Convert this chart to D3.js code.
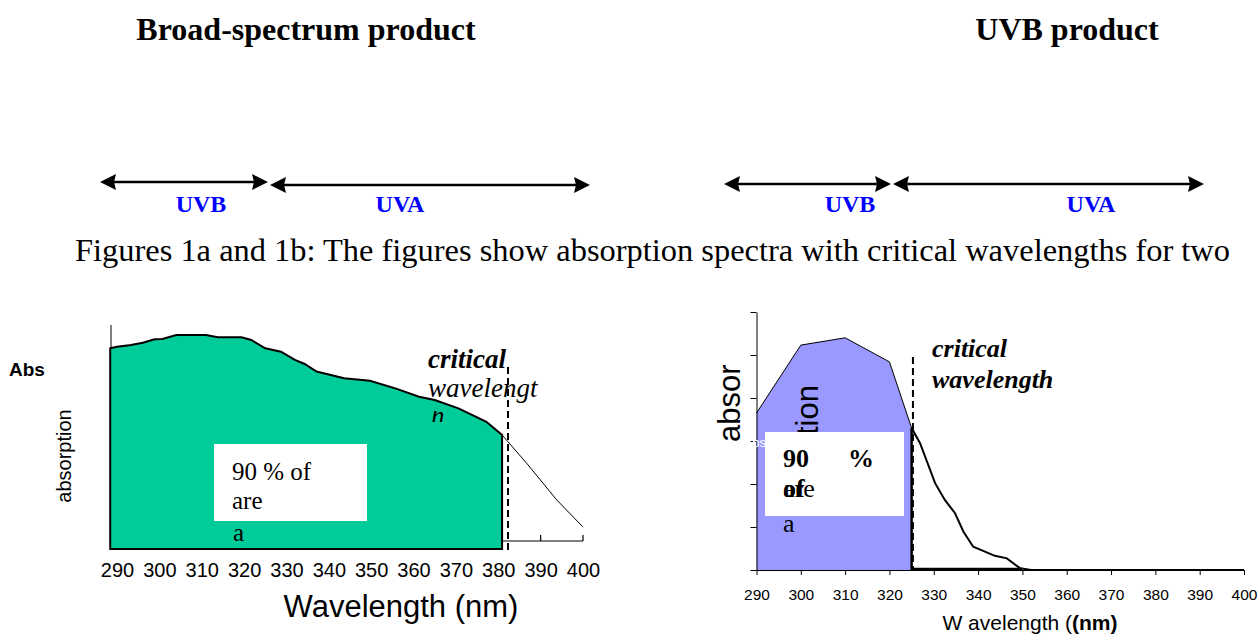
<!DOCTYPE html>
<html>
<head>
<meta charset="utf-8">
<script src="https://cdnjs.cloudflare.com/ajax/libs/d3/7.8.5/d3.min.js"></script>
<style>
  body { margin: 0; background: #fff; }
  svg { display: block; }
</style>
</head>
<body>
<div id="chart"></div>
<script>
// ---- datos ----
const titulos = ["Broad-spectrum product", "UVB product"];
const leyenda = "Figures 1a and 1b: The figures show absorption spectra with critical wavelengths for two";
const bandas = ["UVB", "UVA"];
const bordesBanda = [290, 320, 400];
const ticksNm = [290, 300, 310, 320, 330, 340, 350, 360, 370, 380, 390, 400];

// figura 1a: producto de amplio espectro (absorbancia relativa)
const wlA = [288.4, 290, 293.3, 296.1, 298.9, 300.7, 304, 311, 313.8, 319.4, 321.7, 325, 328.7, 332, 334.3, 337.1, 343.6, 349.7, 355.7, 361.3, 365, 370.6, 377.2, 380.9];
const absA = [0.896, 0.903, 0.911, 0.921, 0.936, 0.938, 0.955, 0.955, 0.945, 0.945, 0.933, 0.896, 0.881, 0.844, 0.826, 0.792, 0.762, 0.751, 0.717, 0.680, 0.665, 0.628, 0.568, 0.509];
const wlA2 = [380.9, 386.7, 393.8, 399.9];
const absA2 = [0.509, 0.383, 0.219, 0.100];
const criticaA = 382.3;

// figura 1b: producto UVB
const wlB = [290, 300, 310, 320, 325];
const absB = [3.65, 5.23, 5.40, 4.84, 3.30];
const wlB2 = [325, 326.9, 330.3, 332.5, 334.8, 336.7, 338.9, 343.8, 346.5, 349.5, 352, 360, 400];
const absB2 = [3.30, 2.95, 2.02, 1.63, 1.32, 0.89, 0.54, 0.33, 0.27, 0.04, 0, 0, 0];
const criticaB = 325.3;
const ticksY = [0, 1, 2, 3, 4, 5, 6];

const width = 1259, height = 638;
const serif = "'Liberation Serif', 'Times New Roman', serif";
const sans = "'Liberation Sans', Arial, sans-serif";

const svg = d3.select("#chart").append("svg")
    .attr("width", width)
    .attr("height", height);

svg.append("rect").attr("width", width).attr("height", height).attr("fill", "#fff");

const texto = (x, y, t, o = {}) => svg.append("text")
    .attr("x", x).attr("y", y)
    .attr("font-family", o.family || serif)
    .attr("font-size", o.size || 26)
    .attr("font-weight", o.weight || "normal")
    .attr("font-style", o.style || "normal")
    .attr("fill", o.fill || "#000")
    .attr("text-anchor", o.anchor || "start")
    .text(t);

// titulos
texto(306, 40, titulos[0], { size: 32, weight: "bold", anchor: "middle" });
texto(1067, 40, titulos[1], { size: 32, weight: "bold", anchor: "middle" });

// flechas UVB / UVA
const flecha = (x1, x2, y) => {
    const g = svg.append("g");
    g.append("line").attr("x1", x1 + 10).attr("x2", x2 - 10)
        .attr("y1", y).attr("y2", y)
        .attr("stroke", "#000").attr("stroke-width", 2.5);
    g.append("path").attr("d", `M${x1},${y}L${x1 + 16},${y - 8}L${x1 + 14},${y}L${x1 + 16},${y + 8}Z`);
    g.append("path").attr("d", `M${x2},${y}L${x2 - 16},${y - 8}L${x2 - 14},${y}L${x2 - 16},${y + 8}Z`);
};
const flechaA = d3.scaleLinear().domain(bordesBanda).range([100, 269, 590]);
const flechaB = d3.scaleLinear().domain(bordesBanda).range([724, 892, 1204]);
flecha(flechaA(bordesBanda[0]), flechaA(bordesBanda[1]) - 1, 182);
flecha(flechaA(bordesBanda[1]) + 1, flechaA(bordesBanda[2]), 185);
flecha(flechaB(bordesBanda[0]), flechaB(bordesBanda[1]) - 1, 184);
flecha(flechaB(bordesBanda[1]) + 1, flechaB(bordesBanda[2]), 184);

const etiquetaBanda = { size: 24, weight: "bold", fill: "#0000ff", anchor: "middle" };
texto(201, 212, bandas[0], etiquetaBanda);
texto(400, 212, bandas[1], etiquetaBanda);
texto(850, 212, bandas[0], etiquetaBanda);
texto(1091, 212, bandas[1], etiquetaBanda);

// leyenda
texto(75, 261, leyenda, { size: 32 })
    .attr("textLength", 1155).attr("lengthAdjust", "spacingAndGlyphs");

// ================= figura 1a =================
const xA = d3.scaleLinear().domain([290, 400]).range([117, 583]);
const yA = d3.scaleLinear().domain([0, 1]).range([549, 325]);
const datosA = wlA.map((w, i) => ({ w, v: absA[i] }));
const colaA = wlA2.map((w, i) => ({ w, v: absA2[i] }));

// eje vertical
svg.append("line").attr("x1", 111).attr("x2", 111)
    .attr("y1", yA(1)).attr("y2", yA(0))
    .attr("stroke", "#000").attr("stroke-width", 1);

const areaA = d3.area().x(d => xA(d.w)).y0(yA(0)).y1(d => yA(d.v));
svg.append("path").datum(datosA)
    .attr("d", areaA)
    .attr("fill", "#00cc99")
    .attr("stroke", "#000").attr("stroke-width", 2);

svg.append("path").datum(colaA)
    .attr("d", d3.line().x(d => xA(d.w)).y(d => yA(d.v)))
    .attr("fill", "none").attr("stroke", "#000").attr("stroke-width", 1);

// eje horizontal a la derecha del area
const ejeA = svg.append("g").attr("transform", `translate(0,541)`);
ejeA.append("line").attr("x1", xA(wlA2[0])).attr("x2", xA(400))
    .attr("stroke", "#000").attr("stroke-width", 1.2);
ejeA.selectAll(".tk").data([390, 400]).join("line")
    .attr("x1", d => xA(d)).attr("x2", d => xA(d))
    .attr("y1", 0).attr("y2", -6)
    .attr("stroke", "#000").attr("stroke-width", 1.2);

// etiquetas de los ticks
const etiquetasA = svg.append("g").attr("transform", "translate(0,563)")
    .call(d3.axisBottom(xA).tickValues(ticksNm).tickSize(0).tickPadding(0).tickFormat(d3.format("d")));
etiquetasA.select(".domain").remove();
etiquetasA.selectAll("text").attr("font-family", sans).attr("font-size", 20).attr("fill", "#000");

texto(401, 617, "Wavelength (nm)", { family: sans, size: 31, anchor: "middle" });
texto(9, 376, "Abs", { family: sans, size: 19, weight: "bold" });
texto(0, 0, "absorption", { family: sans, size: 20, anchor: "middle" })
    .attr("transform", "translate(71,456) rotate(-90)");

// caja blanca
svg.append("rect").attr("x", 214).attr("y", 444).attr("width", 153).attr("height", 77).attr("fill", "#fff");
texto(232, 480, "90 % of", { size: 25 });
texto(232, 509, "are", { size: 25 });
texto(233, 541, "a", { size: 25 });

// longitud de onda critica
texto(428, 368, "critical", { size: 27, weight: "bold", style: "italic" });
texto(428, 397, "wavelengt", { size: 27, style: "italic" });
svg.append("clipPath").attr("id", "corteH")
    .append("rect").attr("x", 420).attr("y", 411).attr("width", 60).attr("height", 11);
texto(431, 425, "h", { size: 27, style: "italic" }).attr("clip-path", "url(#corteH)");

svg.append("line")
    .attr("x1", xA(criticaA)).attr("x2", xA(criticaA))
    .attr("y1", 367).attr("y2", 552)
    .attr("stroke", "#000").attr("stroke-width", 2).attr("stroke-dasharray", "7,4");

// ================= figura 1b =================
const xB = d3.scaleLinear().domain([290, 400]).range([756.5, 1244]);
const yB = d3.scaleLinear().domain([0, 6]).range([570, 312]);
const datosB = wlB.map((w, i) => ({ w, v: absB[i] }));
const colaB = wlB2.map((w, i) => ({ w, v: absB2[i] }));

svg.append("path").datum(datosB)
    .attr("d", d3.area().x(d => xB(d.w)).y0(yB(0)).y1(d => yB(d.v)))
    .attr("fill", "#9999ff");
svg.append("path").datum(datosB)
    .attr("d", d3.line().x(d => xB(d.w)).y(d => yB(d.v)))
    .attr("fill", "none").attr("stroke", "#000").attr("stroke-width", 1);

// borde derecho y base del area
svg.append("line")
    .attr("x1", xB(wlB[wlB.length - 1])).attr("x2", xB(wlB[wlB.length - 1]))
    .attr("y1", yB(absB[absB.length - 1])).attr("y2", yB(0))
    .attr("stroke", "#000").attr("stroke-width", 2.5);
svg.append("line")
    .attr("x1", xB(325)).attr("x2", xB(350))
    .attr("y1", yB(0) - 1).attr("y2", yB(0) - 1)
    .attr("stroke", "#000").attr("stroke-width", 2.5);

svg.append("path").datum(colaB)
    .attr("d", d3.line().x(d => xB(d.w)).y(d => yB(d.v)))
    .attr("fill", "none").attr("stroke", "#000").attr("stroke-width", 2);

const ejeX = svg.append("g").attr("transform", `translate(0,${yB(0)})`)
    .call(d3.axisBottom(xB).tickValues(ticksNm).tickSize(5).tickPadding(14).tickSizeOuter(0).tickFormat(d3.format("d")));
ejeX.selectAll("text").attr("font-family", sans).attr("font-size", 15.5).attr("fill", "#000");
ejeX.selectAll("line, path").attr("stroke", "#000");

const ejeY = svg.append("g").attr("transform", `translate(${xB(290)},0)`)
    .call(d3.axisLeft(yB).tickValues(ticksY).tickSize(6).tickSizeOuter(0).tickFormat(""));
ejeY.selectAll("line, path").attr("stroke", "#000");

svg.append("line")
    .attr("x1", xB(criticaB)).attr("x2", xB(criticaB))
    .attr("y1", 357).attr("y2", yB(0))
    .attr("stroke", "#000").attr("stroke-width", 2).attr("stroke-dasharray", "7,4");

texto(932, 357, "critical", { size: 26, weight: "bold", style: "italic" });
texto(932, 388, "wavelength", { size: 26, weight: "bold", style: "italic" });

// rotulo del eje y partido en dos
texto(0, 0, "absor", { family: sans, size: 31 })
    .attr("transform", "translate(740,442) rotate(-90)");
texto(0, 0, "ption", { family: sans, size: 31, anchor: "end" })
    .attr("transform", "translate(818,385) rotate(-90)");
texto(766, 447, "Abs", { family: sans, size: 13, fill: "#fff", anchor: "end" });

svg.append("rect").attr("x", 765).attr("y", 432).attr("width", 139).attr("height", 84).attr("fill", "#fff");
texto(783, 467, "90", { size: 26, weight: "bold" });
texto(848, 467, "%", { size: 26, weight: "bold" });
texto(783, 497, "are", { size: 26 });
texto(783, 497, "of", { size: 26, weight: "bold" });
texto(783, 532, "a", { size: 26 });

const rotuloX = texto(1030, 630, "", { family: sans, size: 21, anchor: "middle" });
rotuloX.append("tspan").text("W avelength (");
rotuloX.append("tspan").attr("font-weight", "bold").text("(nm)");
</script>
</body>
</html>
